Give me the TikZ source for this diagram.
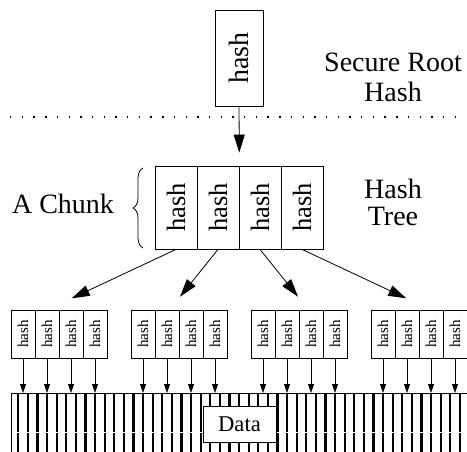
\documentclass[tikz,border=0pt]{standalone}
\usepackage{fontspec}
\setmainfont{Liberation Serif}
\newfontfamily\tmsfam{Liberation Serif}
\usetikzlibrary{arrows.meta,decorations.pathreplacing}
\begin{document}
\begin{tikzpicture}[x=1pt,y=-1pt,
  box/.style={draw, line width=0.8pt, inner sep=0pt, fill=white},
  bigtip/.style={-{Triangle[length=18pt,width=11pt]}, line width=0.8pt},
  smalltip/.style={-{Triangle[length=9pt,width=6pt]}, line width=0.8pt},
  txt/.style={align=center, inner sep=0pt},
  bigcell/.style={box, minimum width=42pt, minimum height=83pt, font=\tmsfam\fontsize{26.5}{28}\selectfont},
  smallcell/.style={box, minimum width=24pt, minimum height=48pt, font=\tmsfam\fontsize{15}{16}\selectfont},
  datastroke/.style={line width=2.2pt},
]
\useasboundingbox (0,0) rectangle (467,452);

% root
\node[box, minimum width=48pt, minimum height=96pt, font=\tmsfam\fontsize{28}{30}\selectfont] (root) at (239,58) {\rotatebox{90}{hash}};
\node[txt, font=\tmsfam\fontsize{28}{30}\selectfont] (securelbl) at (393,77) {Secure Root\\Hash};

% dotted separator
\draw[line width=1.4pt, dash pattern=on 1.4pt off 10.3pt] (10,117) -- (466,117);

% chunk
\foreach \i in {1,...,4}{
  \node[bigcell] (c\i) at ({155+21+42*(\i-1)},207.5) {\rotatebox{90}{hash}};
}
\node[txt, font=\tmsfam\fontsize{28}{27}\selectfont] (treelbl) at (393,202) {Hash\\Tree};
\node[txt, font=\tmsfam\fontsize{28}{30}\selectfont] (chunklbl) at (63,203.5) {A Chunk};
\draw[decorate, decoration={brace, amplitude=10pt}, line width=0.8pt] (143,248) -- (143,168);

\draw[bigtip, shorten >=13pt] (root.south) -- (c2.north east);

% targets of the tree arrows
\coordinate (t1) at (71.7,298.3);
\coordinate (t2) at (180,296.7);
\coordinate (t3) at (298,296.7);
\coordinate (t4) at (406.3,298.3);
\foreach \i in {1,...,4}{
  \draw[bigtip] (c\i.south) -- (t\i);
}

% data strip
\coordinate (dtop) at (11,393);
\foreach \k in {-3,...,43}{
  \draw[datastroke] ({47+9.6*\k},393) -- ({47+9.6*\k},452);
}
\draw[white, line width=0.9pt] (14,432.3) -- (467,432.3);
\draw[line width=0.8pt] (11,452) -- (dtop) -- (466.5,393);
\node[box, minimum width=73pt, minimum height=36pt, font=\tmsfam\fontsize{22.6}{24}\selectfont] (data) at (239.5,424) {Data};

% small hash groups
\foreach \g in {0,...,3}{
  \foreach \i in {0,...,3}{
    \node[smallcell] (s\g\i) at ({11+120*\g+12+24*\i},334) {\rotatebox{90}{hash}};
    \draw[smalltip] (s\g\i.south) -- (s\g\i.south |- dtop);
  }
}
\end{tikzpicture}
\end{document}
